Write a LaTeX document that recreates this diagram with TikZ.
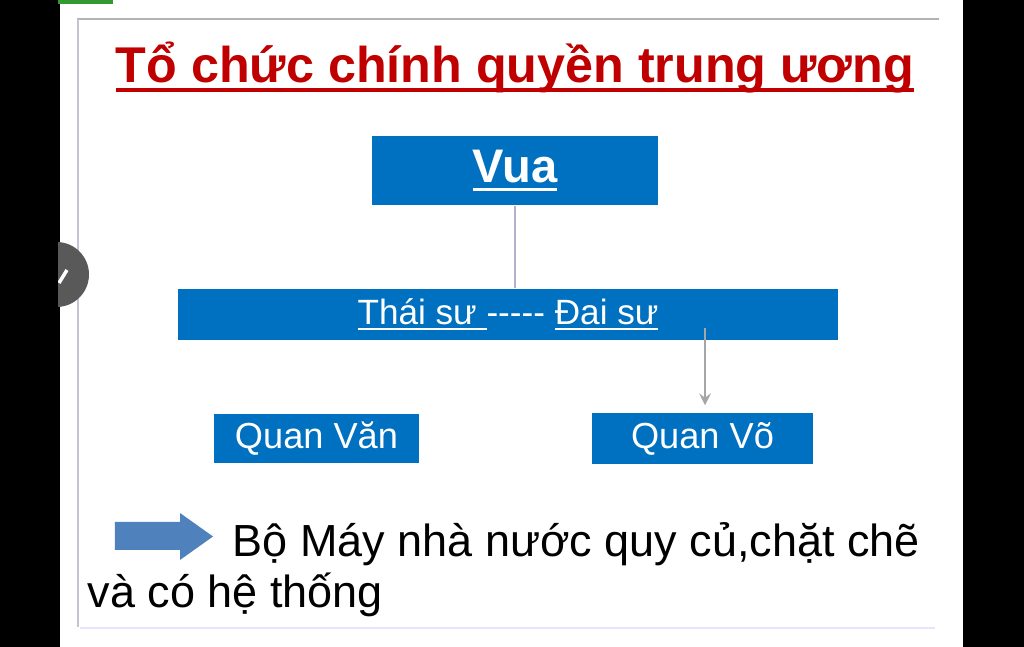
\documentclass[tikz,border=0pt]{standalone}
\usepackage{fontspec}
\setmainfont{Liberation Sans}
\newlength\undlwd
\newcommand\undl[1]{\settowidth\undlwd{#1}\rlap{\rule[-0.17em]{\undlwd}{0.065em}}#1}
\definecolor{slideblue}{HTML}{0070C0}
\definecolor{titlered}{HTML}{C00000}
\definecolor{arrowblue}{HTML}{4F81BD}
\begin{document}
\begin{tikzpicture}[
		box/.style={fill=slideblue,text=white,inner sep=0pt},
		link/.style={draw=gray!70,line width=0.5pt}]
		\useasboundingbox (0,0) rectangle (10.24,6.47);
		\fill[white] (0,0) rectangle (10.24,6.47);
		\fill[black] (0,0) rectangle (0.6,6.47);
		\fill[black] (9.63,0) rectangle (10.24,6.47);
		\fill[green!50!black!80] (0.58,6.43) rectangle (1.13,6.47);
		
		\draw[gray!60,line width=0.6pt] (0.77,6.28) -- (9.39,6.28);
		\draw[blue!15!gray!40,line width=0.6pt] (0.78,6.28) -- (0.78,0.20);
		\draw[blue!10,line width=0.6pt] (0.80,0.19) -- (9.35,0.19);
		
		\node[anchor=base,text=titlered,font=\fontsize{14.3}{16}\bfseries] (title) at (5.15,5.64) {\undl{Tổ chức chính quyền trung ương}};
		
		\node[box,minimum width=2.86cm,minimum height=0.69cm,font=\fontsize{13.4}{16}\bfseries] (vua) at (5.15,4.765) {\undl{Vua}};
		\node[box,minimum width=6.60cm,minimum height=0.51cm,font=\fontsize{10}{12}\selectfont] (thaisu) at (5.08,3.325) {\undl{Thái sư }-{}-{}-{}-{}- \undl{Đai sư}};
		\node[box,minimum width=2.05cm,minimum height=0.49cm,font=\fontsize{10.3}{12}\selectfont] (quanvan) at (3.165,2.085) {Quan Văn};
		\node[box,minimum width=2.21cm,minimum height=0.51cm,font=\fontsize{10.3}{12}\selectfont] (quanvo) at (7.025,2.085) {Quan Võ};
		\coordinate (daisu) at (7.05,3.19);
		
		\draw[link,draw=blue!20!gray!50] (vua.south) -- (vua.south |- thaisu.north);
		\draw[link,->,>=stealth] (daisu) -- ([yshift=2pt]daisu |- quanvo.north);
		
		\fill[arrowblue] (1.15,1.25) -- (1.80,1.25) -- (1.80,1.34) -- (2.13,1.105) -- (1.80,0.87) -- (1.80,0.97) -- (1.15,0.97) -- cycle;
		\node[anchor=base west,inner sep=0pt,font=\fontsize{12.8}{15}\selectfont] (result) at (2.32,0.90) {Bộ Máy nhà nước quy củ,chặt chẽ};
		\node[anchor=base west,inner sep=0pt,font=\fontsize{12.8}{15}\selectfont] (result2) at (0.87,0.39) {và có hệ thống};
		
		\begin{scope}
			\clip (0.58,0) rectangle (1.2,6.47);
			\fill[black!65] (0.565,3.725) circle (0.325);
			\draw[white,line width=1pt] (0.59,3.64) -- (0.67,3.77);
		\end{scope}
	\end{tikzpicture}
\end{document}
